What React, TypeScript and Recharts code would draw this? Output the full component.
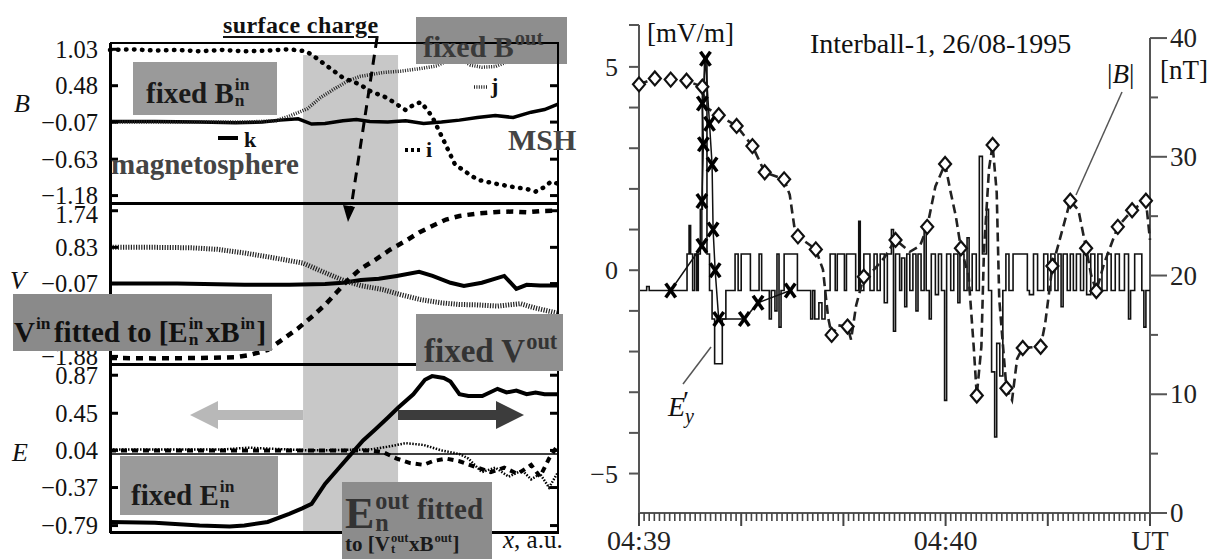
import React from 'react';
import { LineChart, ComposedChart, Line, XAxis, YAxis, ReferenceArea, ReferenceLine } from 'recharts';

const SERIF = '"Liberation Serif", "Times New Roman", Times, serif';
type P = [number, number];

// ================= Left panel: model profiles (x in a.u.) =================
const bTicks = [1.03, 0.48, -0.07, -0.63, -1.18];
const vTicks = [1.74, 0.83, -0.07, -0.98, -1.88];
const eTicks = [0.87, 0.45, 0.04, -0.37, -0.79];
const hiddenTickLabels = [-0.98]; // covered by the "V fitted" box in the figure
const bDomain: P = [-1.292, 1.125];
const vDomain: P = [-2.069, 1.932];
const eDomain: P = [-0.861, 0.994];
const chargeLayer: P = [43.1, 64.3];
const chargeLayerTopB = 0.944;

const bI: P[] = [[0,1.02],[5,1.03],[10,1.01],[15,1.02],[20,1.0],[25,1.02],[30,1.0],[35,1.01],[40,1.03],[43.8,1.0],[46,0.9],[49.8,0.71],[52,0.6],[55.8,0.5],[58,0.4],[61.7,0.3],[64,0.2],[66,0.11],[68,0.2],[69.4,0.23],[71,0.1],[72,0.0],[74.5,-0.35],[77,-0.71],[80,-0.85],[82,-0.94],[86,-1.0],[90,-1.05],[93,-1.08],[95,-1.12],[97,-1.05],[98.4,-0.97],[100,-1.0]];
const bJ: P[] = [[0,-0.07],[30,-0.07],[37,-0.05],[40,0.02],[44,0.13],[47,0.3],[49.8,0.42],[53,0.55],[55.8,0.62],[61,0.68],[65,0.7],[69.4,0.74],[73,0.78],[77,0.92],[79,0.85],[80.5,0.79],[83,0.76],[86,0.77],[89,0.85],[91,0.92],[93,0.9],[95,1.0],[97,0.96],[100,0.98]];
const bK: P[] = [[0,-0.06],[10,-0.06],[20,-0.07],[28,-0.08],[34,-0.07],[38,-0.04],[42,-0.02],[45,-0.1],[48,-0.09],[52,-0.05],[55,-0.03],[58,-0.06],[62,-0.07],[66,-0.05],[70,-0.09],[74,-0.07],[78,-0.04],[82,0.0],[86,0.03],[90,0.0],[94,0.08],[97,0.12],[100,0.2]];
const vDot: P[] = [[0,0.83],[10,0.83],[18,0.82],[24,0.78],[30,0.69],[36,0.58],[43,0.44],[48,0.2],[52.3,0.0],[56,-0.12],[60.9,-0.22],[65,-0.35],[69.4,-0.47],[74,-0.55],[77.9,-0.59],[82,-0.6],[86.5,-0.63],[89,-0.6],[91.6,-0.57],[95,-0.68],[99.7,-0.8],[100,-0.8]];
const vSolid: P[] = [[0,-0.07],[15,-0.07],[30,-0.1],[40,-0.1],[48,-0.08],[52,-0.05],[56,0.02],[60,0.05],[64,0.12],[69,0.22],[72,0.12],[76,-0.05],[79,-0.13],[83,-0.05],[88,0.12],[90.7,-0.2],[93,-0.1],[96,-0.12],[100,-0.12]];
const vDash: P[] = [[0,-1.92],[10,-1.93],[20,-1.92],[28,-1.9],[31,-1.85],[35.2,-1.72],[38,-1.5],[42,-1.18],[45,-0.9],[48,-0.6],[50.5,-0.3],[53.2,0.03],[56,0.3],[59.2,0.52],[62.5,0.77],[66,0.99],[69,1.2],[71.9,1.36],[75,1.52],[78,1.61],[82,1.67],[86.4,1.71],[90,1.72],[93,1.7],[96,1.73],[100,1.74]];
const eSolid: P[] = [[0,-0.75],[10,-0.76],[20,-0.79],[26.7,-0.8],[30,-0.79],[35.2,-0.75],[40,-0.66],[42.9,-0.6],[45,-0.55],[48,-0.33],[51,-0.16],[54,0.01],[56.5,0.15],[59.2,0.27],[62,0.4],[64.3,0.51],[67.7,0.66],[70.3,0.82],[71.9,0.86],[74.5,0.84],[76,0.8],[78,0.66],[80,0.64],[83.1,0.64],[86.5,0.72],[88.5,0.68],[90.7,0.7],[93,0.66],[95,0.68],[97,0.66],[100,0.66]];
const eDash: P[] = [[0,0.04],[20,0.04],[40,0.04],[58,0.04],[61,0.02],[64,-0.05],[67,-0.1],[70,-0.12],[72,-0.08],[75,-0.05],[78,-0.08],[82,-0.15],[85,-0.2],[88,-0.15],[91,-0.22],[94,-0.12],[96,-0.25],[98,-0.05],[100,0.1]];
const eDot: P[] = [[0,0.05],[25,0.05],[31,0.07],[35,0.06],[45,0.04],[58,0.05],[62,0.08],[66,0.12],[70,0.1],[74,0.04],[78,0.0],[80,-0.05],[83,-0.2],[86,-0.15],[89,-0.25],[92,-0.18],[94,-0.28],[96,-0.22],[98,-0.37],[100,-0.2]];
const eZero: P[] = [[0,0],[100,0]];

// ================= Right panel: Interball-1, 26/08-1995 =================
// time in seconds after 04:39:00 UT
const eyStep: P[] = [[0,-0.5],[1.5,-0.4],[2,-0.5],[9.4,0.4],[9.8,1.1],[10.1,0.4],[10.5,-0.5],[10.9,0.4],[11.3,-0.5],[11.6,0.4],[12,1.5],[12.4,4.6],[12.8,5.2],[13.3,0.4],[13.8,-0.5],[14.3,-1.2],[14.8,-2.3],[16.3,-1.2],[17,-0.5],[18.8,0.4],[19.4,-0.5],[20,0.4],[21.8,-0.5],[23.5,0.4],[24,-0.5],[25.5,-1.2],[25.9,-0.5],[26.6,-1.0],[27,0.4],[27.4,-1.4],[27.8,-0.5],[28.4,0.4],[31,-0.5],[33.6,-1.2],[34,-0.5],[34.4,-1.2],[35.2,-0.8],[35.8,-1.2],[36.4,-0.5],[37.4,0.4],[38.4,-0.5],[38.8,0.4],[40.2,-0.5],[40.6,0.4],[42.4,-0.5],[43,1.2],[43.3,-0.5],[44,0.4],[45.2,-0.5],[46,0.4],[46.6,-0.5],[47.2,0.4],[48,-0.8],[48.6,0.4],[49.4,1.0],[49.8,-1.5],[50.2,0.4],[51,-0.5],[51.4,0.3],[52,-0.9],[52.4,0.4],[53,-0.5],[53.6,0.4],[54.2,-1.0],[54.6,0.4],[55.2,-0.5],[55.8,1.0],[56.2,-0.5],[56.8,-1.2],[57.2,0.4],[58,-0.6],[58.6,0.4],[59.2,-0.5],[59.8,-3.2],[60.2,0.4],[61,-0.5],[61.6,0.4],[62.4,-0.8],[62.8,0.4],[63.6,-0.5],[64.2,0.8],[64.6,-0.5],[65.2,0.4],[66,-0.5],[66.6,2.8],[67.2,0.4],[68,1.5],[68.4,-0.5],[69,-2.5],[69.6,-4.1],[70,-1.8],[70.6,-2.6],[71.2,-0.5],[71.8,0.4],[72.4,-0.5],[73.2,0.4],[76,-0.5],[76.4,-0.6],[77.2,0.4],[78,-0.5],[79.2,0.4],[80,-0.5],[80.6,0.4],[81.4,-0.5],[82,0.4],[82.6,-0.9],[83,0.4],[83.8,-0.5],[84.4,0.4],[85,-0.5],[85.6,0.4],[86.4,-0.5],[87,0.4],[87.6,-0.6],[88.4,0.4],[89.2,-0.5],[89.8,0.4],[90.6,-0.5],[91.6,0.4],[92.4,-0.5],[93.2,0.4],[94,-0.5],[95,0.4],[95.8,-1.2],[96.2,-0.5],[97,0.4],[98.4,-0.5],[98.8,-1.4],[99.2,-0.5],[100,-0.5]];
const eyCross: P[] = [[6.2,-0.5],[12.3,0.6],[12.3,1.7],[12.6,3.1],[12.4,4.1],[13.0,5.2],[13.8,3.6],[14.3,2.6],[14.5,1.0],[14.9,0.0],[15.6,-1.2],[20.6,-1.2],[23.3,-0.8],[29.6,-0.5]];
const bMag: P[] = [[0,36.1],[3.1,36.6],[6.2,36.5],[9.3,36.4],[12.4,35.9],[13,34.2],[15.6,33.5],[19.1,32.6],[22.2,30.9],[24.6,28.7],[28.4,28.1],[29.5,26.8],[30.5,23.8],[31.1,23.3],[34.6,22.2],[36,20.5],[37,16.5],[37.7,15.0],[39,15.8],[40.8,15.7],[41.5,14.6],[42.5,17.5],[44,19.9],[46,20.5],[48,21.5],[50.2,23.0],[53,22.0],[55,22.5],[56.4,24.1],[58,27.5],[59.9,29.4],[61,27],[62,25],[63,22.3],[64.5,20],[65.5,14],[66.1,9.9],[67,14],[67.5,22],[68.5,29],[69.2,31.0],[70,27],[70.5,18],[71.9,10.5],[73,9.5],[74,13],[75.1,13.9],[78.6,14.0],[79.5,16],[80.9,20.8],[82,22.5],[84.4,26.3],[86,25.5],[87.5,22.3],[88.5,20],[89.5,18.7],[91,21],[93.7,24.1],[96.5,25.5],[99.2,26.3],[100,23]];
const bMagMarks: P[] = [[0,36.1],[3.1,36.6],[6.2,36.5],[9.3,36.4],[12.4,35.9],[15.6,33.5],[19.1,32.6],[22.2,30.9],[24.6,28.7],[28.4,28.1],[31.1,23.3],[34.6,22.2],[37.7,15.0],[40.8,15.7],[44,19.9],[50.2,23.0],[56.4,24.1],[59.9,29.4],[63,22.3],[66.1,9.9],[69.2,31.0],[71.9,10.5],[75.1,13.9],[78.6,14.0],[80.9,20.8],[84.4,26.3],[87.5,22.3],[89.5,18.7],[93.7,24.1],[96.5,25.5],[99.2,26.3]];
const mvTicks = [-5, -4, -3, -2, -1, 0, 1, 2, 3, 4, 5, 6.03];
const mvLabelled = [-5, 0, 5];
const ntTicks = [0, 5, 10, 15, 20, 25, 30, 35, 40];
const secTicks = Array.from({ length: 101 }, (_, i) => i);
const timeLabelAt = [0, 60, 100];
const timeLabelText = ['04:39', '04:40', 'UT'];

const toXY = (pts: P[]) => pts.map(([x, y]) => ({ x, y }));
const toTV = (pts: P[]) => pts.map(([t, v]) => ({ t, v }));
const fmt = (v: number) => (v < 0 ? '\u2212' + Math.abs(v).toFixed(2) : v.toFixed(2));

const makeProfileTick = (ticks: number[], topShift: number) => (p: any) => {
  const v = p.payload.value;
  const shift = v === ticks[0] ? topShift : 0;
  return (
    <g>
      {!hiddenTickLabels.includes(v) && (
        <text x={p.x - 4} y={p.y + shift} dy={8.5} textAnchor="end" fontFamily={SERIF} fontSize={24.5} fill="#111">{fmt(v)}</text>
      )}
      <line x1={110} x2={118} y1={p.y} y2={p.y} stroke="#000" strokeWidth={3} />
      <line x1={550} x2={558} y1={p.y} y2={p.y} stroke="#000" strokeWidth={3} />
    </g>
  );
};

type S = { d: P[]; w: number; dash?: string; c?: string; cap?: 'round' | 'butt' };

function Profile({ top, bottom, domain, ticks, series, bandTop, topShift = 0 }: { top: number; bottom: number; domain: P; ticks: number[]; series: S[]; bandTop?: number; topShift?: number }) {
  return (
    <div style={{ position: 'absolute', left: 0, top: 0 }}>
      <LineChart width={570} height={559} margin={{ top, right: 12, bottom: 559 - bottom, left: 0 }}>
        <XAxis type="number" dataKey="x" domain={[0, 100]} hide />
        <YAxis type="number" domain={domain} ticks={ticks} interval={0} width={110} axisLine={false} tickLine={false} tick={makeProfileTick(ticks, topShift)} />
        <ReferenceArea x1={chargeLayer[0]} x2={chargeLayer[1]} y1={bandTop !== undefined ? domain[0] : undefined} y2={bandTop} fill="#c8c8c8" fillOpacity={1} stroke="none" />
        {series.map((s, i) => (
          <Line key={i} data={toXY(s.d)} dataKey="y" type="linear" stroke={s.c || '#000'} strokeWidth={s.w} strokeDasharray={s.dash} strokeLinecap={s.cap || 'butt'} dot={false} isAnimationActive={false} />
        ))}
      </LineChart>
    </div>
  );
}

// right-chart ticks: coordinates are local to the chart svg (plot x 79..590, y 25..513)
const MvTick = (p: any) => {
  const v = p.payload.value;
  return (
    <g>
      <line x1={69} x2={79} y1={p.y} y2={p.y} stroke="#555" strokeWidth={2} />
      {mvLabelled.includes(v) && (
        <text x={58} y={p.y} dy={9} textAnchor="end" fontFamily={SERIF} fontSize={26} fill="#222">{v < 0 ? '\u2212' + Math.abs(v) : String(v)}</text>
      )}
    </g>
  );
};
const NtTick = (p: any) => {
  const v = p.payload.value;
  const major = v % 10 === 0;
  return (
    <g>
      <line x1={590} x2={major ? 607 : 598} y1={p.y} y2={p.y} stroke="#555" strokeWidth={2} />
      {major && <text x={610} y={p.y} dy={9} fontFamily={SERIF} fontSize={27} fill="#222">{v}</text>}
    </g>
  );
};
const TimeTick = (p: any) => {
  const v = p.payload.value;
  const major = v % 20 === 0;
  const li = timeLabelAt.indexOf(v);
  return (
    <g>
      <line x1={p.x} x2={p.x} y1={513} y2={major ? 526 : 521} stroke="#444" strokeWidth={major ? 2 : 1.6} />
      {li >= 0 && <text x={p.x} y={550} textAnchor="middle" fontFamily={SERIF} fontSize={28} fill="#222">{timeLabelText[li]}</text>}
    </g>
  );
};
const XDot = (p: any) => {
  const { cx, cy } = p;
  if (cx == null || cy == null) return <g key={p.key} />;
  return (
    <g key={p.key}>
      <line x1={cx - 5} y1={cy - 7} x2={cx + 5} y2={cy + 7} stroke="#000" strokeWidth={3.5} />
      <line x1={cx + 5} y1={cy - 7} x2={cx - 5} y2={cy + 7} stroke="#000" strokeWidth={3.5} />
    </g>
  );
};
const DiamondDot = (p: any) => {
  const { cx, cy } = p;
  if (cx == null || cy == null) return <g key={p.key} />;
  return <polygon key={p.key} points={`${cx},${cy - 7} ${cx + 6},${cy} ${cx},${cy + 7} ${cx - 6},${cy}`} fill="#fff" stroke="#111" strokeWidth={2.2} />;
};

const T = ({ x, y, fs, b, i, c, children, ls }: any) => (
  <div style={{ position: 'absolute', left: x, top: y - 0.837 * fs, fontSize: fs, lineHeight: 1, fontWeight: b ? 'bold' : 'normal', fontStyle: i ? 'italic' : 'normal', color: c || '#111', whiteSpace: 'nowrap', fontFamily: SERIF, letterSpacing: ls }}>{children}</div>
);
const SS = ({ sup, sub, fs, w, k = 0.6, supTop = 0.08, subTop = 0.62 }: any) => (
  <span style={{ display: 'inline-block', position: 'relative', width: w, height: fs }}>
    {sup && <span style={{ position: 'absolute', left: 1, top: fs * supTop, fontSize: fs * k, lineHeight: 1 }}>{sup}</span>}
    {sub && <span style={{ position: 'absolute', left: 1, top: fs * subTop, fontSize: fs * k, lineHeight: 1 }}>{sub}</span>}
  </span>
);
const Box = ({ x, y, w, h, c }: any) => <div style={{ position: 'absolute', left: x, top: y, width: w, height: h, background: c }} />;
const HL = ({ x, y, w, t }: any) => <div style={{ position: 'absolute', left: x, top: y - t / 2, width: w, height: t, background: '#000' }} />;
const VL = ({ x, y, h, t }: any) => <div style={{ position: 'absolute', left: x - t / 2, top: y, width: t, height: h, background: '#000' }} />;

export default function App() {
  return (
    <div style={{ position: 'absolute', left: 0, top: 0, width: 1210, height: 559, background: '#fff', overflow: 'hidden', fontFamily: SERIF }}>
      {/* ---------- left panel ---------- */}
      <Profile top={43} bottom={203} domain={bDomain} ticks={bTicks} bandTop={chargeLayerTopB}
        series={[
          { d: bK, w: 3.5 },
          { d: bJ, w: 3.5, dash: '1 1.4', c: '#222' },
          { d: bI, w: 4.5, dash: '0.5 7.5', cap: 'round' },
        ]} />
      <Profile top={203} bottom={364} domain={vDomain} ticks={vTicks} topShift={4}
        series={[
          { d: vSolid, w: 4 },
          { d: vDot, w: 5, dash: '1.2 1.4', c: '#222' },
          { d: vDash, w: 4.5, dash: '7 6' },
        ]} />
      <Profile top={364} bottom={532} domain={eDomain} ticks={eTicks}
        series={[
          { d: eZero, w: 1.5 },
          { d: eDot, w: 2.5, dash: '1.5 1.5' },
          { d: eDash, w: 4, dash: '6 5' },
          { d: eSolid, w: 4 },
        ]} />
      <Box x={416} y={17} w={151} h={47} c="#8e8e8e" />
      {/* frames */}
      <HL x={110} y={43} w={449} t={2} />
      <HL x={110} y={203} w={449} t={3} />
      <HL x={110} y={364} w={449} t={3} />
      <HL x={110} y={532} w={449} t={3} />
      <VL x={110} y={43} h={490} t={3} />
      <VL x={558} y={43} h={490} t={2} />

      {/* labels & boxes */}
      <T x={223} y={33} fs={24} b c="#111" ls={0.4}><span style={{ textDecoration: 'underline', textDecorationThickness: 2, textUnderlineOffset: 3 }}>surface charge</span></T>
      <T x={423} y={52} fs={30} b c="#3a3a3a">fixed B<SS sup="out" fs={30} w={40} k={0.68} supTop={0.05} /></T>
      <Box x={133} y={62} w={144} h={53} c="#9a9a9a" />
      <T x={146} y={98} fs={29} b c="#1a1a1a">fixed B<SS sup="in" sub="n" fs={29} w={20} /></T>
      <T x={111} y={174} fs={29} b c="#444">magnetosphere</T>
      <T x={508} y={150} fs={30} b c="#444">MSH</T>
      <T x={244} y={147} fs={22} b>k</T>
      <T x={426} y={157} fs={22} b>i</T>
      <T x={491} y={93} fs={22} b>j</T>
      <T x={14} y={113} fs={26} i>B</T>
      <T x={10} y={290} fs={26} i>V</T>
      <T x={12} y={462} fs={26} i>E</T>

      <Box x={13} y={294} w={259} h={57} c="#8a8a8a" />
      <T x={14} y={337} fs={29} b c="#111">V<SS sup="in" fs={29} w={19} />fitted to [E<SS sup="in" sub="n" fs={29} w={18} />xB<SS sup="in" fs={29} w={17} />]</T>
      <Box x={416} y={314} w={147} h={57} c="#8f8f8f" />
      <T x={424} y={357} fs={33} b c="#333">fixed V<SS sup="out" fs={33} w={36} k={0.68} supTop={0.05} /></T>
      <Box x={120} y={456} w={158} h={59} c="#9a9a9a" />
      <T x={131} y={500} fs={29} b c="#1a1a1a">fixed E<SS sup="in" sub="n" fs={29} w={20} /></T>
      <Box x={342} y={482} w={150} h={77} c="#8c8c8c" />
      <T x={345} y={521} fs={44} b c="#333">E<SS sup="out" sub="n" fs={44} w={46} k={0.55} supTop={0.12} subTop={0.62} /></T>
      <T x={417} y={519} fs={29} b c="#333">fitted</T>
      <T x={345} y={548} fs={21} b c="#1a1a1a">to [V<SS sup="out" sub="t" fs={21} w={19} />xB<SS sup="out" fs={21} w={19} />]</T>
      <T x={503} y={548} fs={25}><i>x</i>, a.u.</T>

      {/* ---------- right panel ---------- */}
      <div style={{ position: 'absolute', left: 560, top: 0 }}>
        <ComposedChart width={650} height={559} margin={{ top: 25, right: 0, bottom: 0, left: 0 }}>
          <XAxis type="number" dataKey="t" domain={[0, 100]} ticks={secTicks} interval={0} height={46} axisLine={{ stroke: '#555', strokeWidth: 2 }} tickLine={false} tick={TimeTick} />
          <YAxis yAxisId="mv" type="number" domain={[-5.97, 6.03]} ticks={mvTicks} interval={0} width={79} axisLine={{ stroke: '#555', strokeWidth: 2 }} tickLine={false} tick={MvTick} />
          <YAxis yAxisId="nt" orientation="right" type="number" domain={[0, 41.1]} ticks={ntTicks} interval={0} width={60} axisLine={false} tickLine={false} tick={NtTick} />
          <ReferenceLine yAxisId="nt" segment={[{ x: 100, y: 0 }, { x: 100, y: 40 }]} stroke="#555" strokeWidth={2} />
          <Line yAxisId="mv" data={toTV(eyStep)} dataKey="v" type="stepAfter" stroke="#111" strokeWidth={1.6} dot={false} isAnimationActive={false} />
          <Line yAxisId="nt" data={toTV(bMag)} dataKey="v" type="linear" stroke="#222" strokeWidth={2.6} strokeDasharray="9 5" dot={false} isAnimationActive={false} />
          <Line yAxisId="nt" data={toTV(bMagMarks)} dataKey="v" stroke="none" dot={DiamondDot} isAnimationActive={false} />
          <Line yAxisId="mv" data={toTV(eyCross)} dataKey="v" stroke="#111" strokeWidth={1.5} dot={XDot} isAnimationActive={false} />
        </ComposedChart>
      </div>
      <T x={647} y={43} fs={27}>[mV/m]</T>
      <T x={810} y={53} fs={28}>Interball-1, 26/08-1995</T>
      <T x={1160} y={80} fs={27}>[nT]</T>
      <T x={1107} y={84} fs={27}>|<i>B</i>|</T>
      <T x={668} y={416} fs={28}><i>E</i><span style={{ position: 'relative' }}><span style={{ position: 'absolute', left: -2, top: -4 }}>{'\u2032'}</span><i style={{ fontSize: 20, position: 'relative', top: 7 }}>y</i></span></T>

      {/* annotation lines */}
      <svg width={1210} height={559} style={{ position: 'absolute', left: 0, top: 0 }}>
        <line x1={377} y1={38} x2={351} y2={208} stroke="#000" strokeWidth={3} strokeDasharray="10 7" />
        <polygon points="348,222 343,205 355,207" fill="#000" />
        <line x1={218} y1={138} x2={238} y2={138} stroke="#000" strokeWidth={4} />
        <line x1={405} y1={150} x2={421} y2={150} stroke="#000" strokeWidth={4} strokeDasharray="3 3" />
        <line x1={474} y1={87} x2={488} y2={87} stroke="#222" strokeWidth={3.5} strokeDasharray="1 1.4" />
        <polygon points="190,415 218,401 218,410 303,410 303,420 218,420 218,429" fill="#b8b8b8" />
        <polygon points="524,415 496,401 496,410 398,410 398,420 496,420 496,429" fill="#3c3c3c" />
        <line x1={1122} y1={92} x2={1076} y2={195} stroke="#555" strokeWidth={1.5} />
        <line x1={683} y1={384} x2={711} y2={347} stroke="#555" strokeWidth={1.5} />
      </svg>
    </div>
  );
}
